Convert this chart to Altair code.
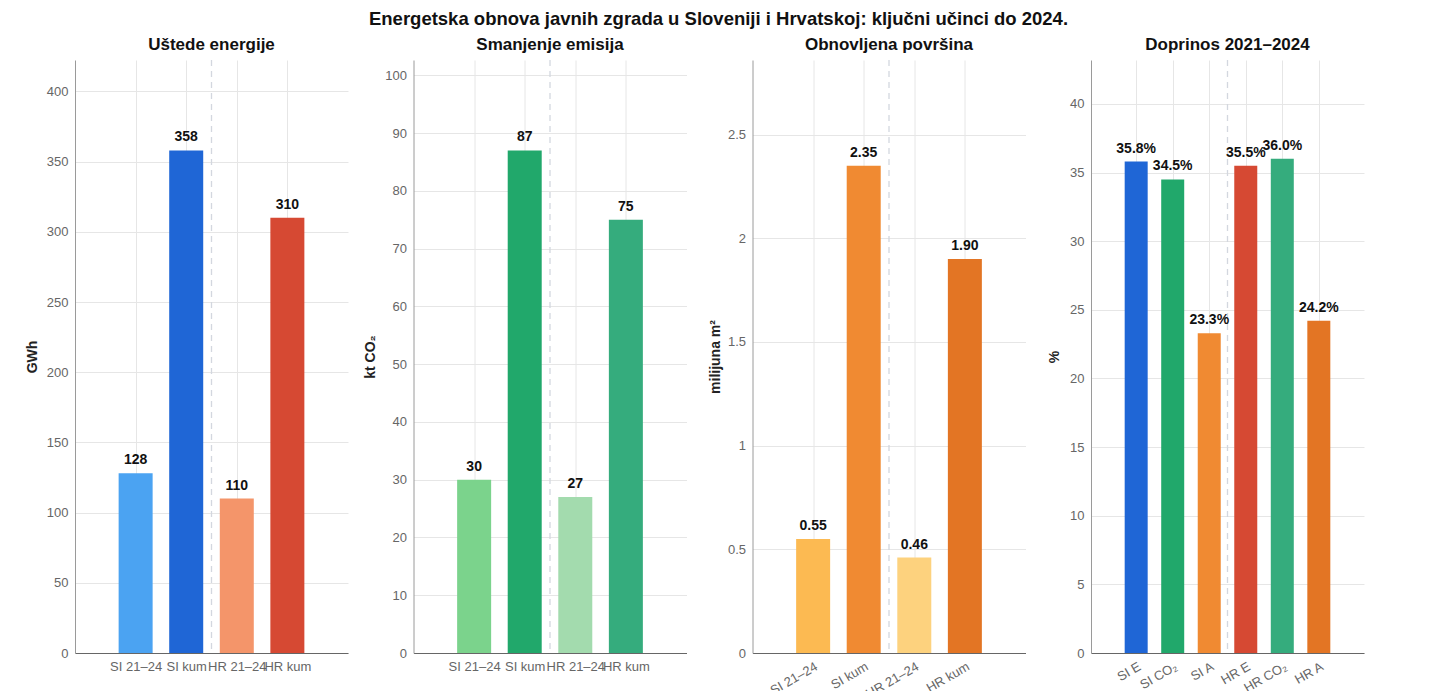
import json
import altair as alt
import pandas as pd

main_title = "Energetska obnova javnih zgrada u Sloveniji i Hrvatskoj: ključni učinci do 2024."

# ---- data ----
cats_period = ["SI 21–24", "SI kum", "HR 21–24", "HR kum"]
energy_gwh = [128, 358, 110, 310]
emission_kt = [30, 87, 27, 75]
area_mm2 = [0.55, 2.35, 0.46, 1.90]

share_cats = ["SI E", "SI CO₂", "SI A", "HR E", "HR CO₂", "HR A"]
share_pct = [35.8, 34.5, 23.3, 35.5, 36.0, 24.2]

energy_ticks = [0, 50, 100, 150, 200, 250, 300, 350, 400]
emission_ticks = [0, 10, 20, 30, 40, 50, 60, 70, 80, 90, 100]
area_ticks = [0, 0.5, 1, 1.5, 2, 2.5]
share_ticks = [0, 5, 10, 15, 20, 25, 30, 35, 40]

# ---- styles ----
energy_colors = ["#4BA3F2", "#1F66D6", "#F4956A", "#D64933"]
emission_colors = ["#7BD38C", "#21A86B", "#A3DBAE", "#35AC7D"]
area_colors = ["#FCBA52", "#F08A32", "#FDD27E", "#E37524"]
share_colors = ["#1F66D6", "#21A86B", "#F08A32", "#D64933", "#35AC7D", "#E37524"]

FONT = "Liberation Sans"
W, H = 273, 593


def panel(cats, vals, colors, title, ytitle, ymax, yticks, fmt, suffix, angle, bar_w, tpad):
    n = len(cats)
    df = pd.DataFrame({"cat": cats, "val": vals, "pos": list(range(1, n + 1))})
    label_expr = json.dumps(cats) + "[datum.value - 1]"
    x_axis = dict(
        values=list(range(1, n + 1)),
        labelExpr=label_expr,
        title=None,
        grid=True,
        gridColor="#e6e6e6",
        ticks=False,
        domainColor="#666666",
        labelColor="#666666",
        labelFontSize=13,
        labelFont=FONT,
        labelPadding=7,
        labelOverlap=False,
        labelBound=False,
        labelFlush=False,
    )
    if angle:
        x_axis.update(labelAngle=angle, labelAlign="right", labelBaseline="top")
    x = alt.X(
        "pos:Q",
        scale=alt.Scale(domain=[-0.1, n + 1.1], nice=False, zero=False),
        axis=alt.Axis(**x_axis),
    )
    y = alt.Y(
        "val:Q",
        scale=alt.Scale(domain=[0, ymax], nice=False),
        axis=alt.Axis(
            values=yticks,
            labelExpr="'' + datum.value",
            title=ytitle,
            grid=True,
            gridColor="#e6e6e6",
            ticks=False,
            domainColor="#9a9a9a",
            labelColor="#666666",
            labelFontSize=13,
            labelFont=FONT,
            labelPadding=7,
            titleFont=FONT,
            titleFontSize=14,
            titleFontWeight="bold",
            titleColor="#222222",
            titlePadding=tpad,
            minExtent=30,
            maxExtent=30,
        ),
    )
    base = alt.Chart(df)
    bars = base.mark_bar(width=bar_w).encode(
        x=x,
        y=y,
        color=alt.Color("cat:N", scale=alt.Scale(domain=cats, range=colors), legend=None),
    )
    text = base.transform_calculate(
        lab="format(datum.val, '" + fmt + "') + '" + suffix + "'"
    ).mark_text(
        font=FONT, fontSize=14, fontWeight="bold", color="#111111",
        baseline="alphabetic", dy=-9
    ).encode(x="pos:Q", y="val:Q", text="lab:N")
    sep = alt.Chart(pd.DataFrame({"s": [n / 2 + 0.5]})).mark_rule(
        strokeDash=[6, 5], color="#d3d7df", strokeWidth=1.3
    ).encode(x="s:Q")
    return alt.layer(bars, sep, text).properties(
        width=W, height=H,
        title=alt.TitleParams(title, fontSize=17, fontWeight="bold", font=FONT,
                              color="#111111", offset=5),
    )


p1 = panel(cats_period, energy_gwh, energy_colors, "Uštede energije", "GWh",
           422.4, energy_ticks, "d", "", None, 34, 6)
p2 = panel(cats_period, emission_kt, emission_colors, "Smanjenje emisija", "kt CO₂",
           102.66, emission_ticks, "d", "", None, 34, 6)
p3 = panel(cats_period, area_mm2, area_colors, "Obnovljena površina", "milijuna m²",
           2.86, area_ticks, ".2f", "", 330, 34, 0)
p4 = panel(share_cats, share_pct, share_colors, "Doprinos 2021–2024", "%",
           43.2, share_ticks, ".1f", "%", 330, 23, 0)

left_pair = alt.hconcat(p1, p2, spacing=15.5).resolve_scale(color="independent")
chart = alt.hconcat(left_pair, p3, p4, spacing=21.5).resolve_scale(
    color="independent"
).properties(
    title=alt.TitleParams(main_title, fontSize=18.5, fontWeight="bold", font=FONT,
                          color="#111111", anchor="middle", offset=6, dy=-2, dx=24),
    padding={"left": 17, "top": 1, "right": 5, "bottom": 5},
).configure_view(stroke=None)

chart.save("out.html", embed_options={"renderer": "svg", "actions": False})
